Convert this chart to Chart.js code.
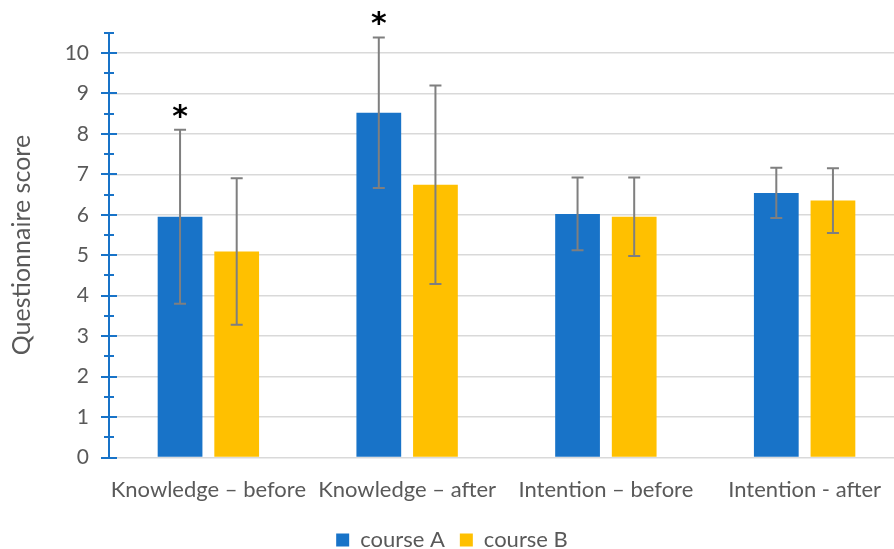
<!DOCTYPE html>
<html>
<head>
<meta charset="utf-8">
<script src="https://cdn.jsdelivr.net/npm/chart.js@4.4.1/dist/chart.umd.min.js"></script>
<style>
html,body{margin:0;padding:0;background:#fff;overflow:hidden;width:894px;height:549px;}
canvas{display:block;}
</style>
</head>
<body>
<canvas id="c" width="904" height="549" style="width:904px;height:549px"></canvas>
<script>
const categories = ['Knowledge – before', 'Knowledge – after', 'Intention – before', 'Intention - after'];
const seriesNames = ['course A', 'course B'];
const courseA = [5.95, 8.52, 6.02, 6.54];
const courseB = [5.09, 6.74, 5.95, 6.35];
const errA = [2.15, 1.86, 0.90, 0.62];
const errB = [1.81, 2.45, 0.97, 0.80];
const significantA = [true, true, false, false];
const yTickValues = [0, 1, 2, 3, 4, 5, 6, 7, 8, 9, 10];
const yMin = 0, yMax = 10.5;

const BLUE = '#1873C8', YELLOW = '#FFC000', GREY_TXT = '#595959';
const FONT = 'Lato, "Liberation Sans", sans-serif';

const errorBarPlugin = {
  id: 'errorBars',
  afterDatasetsDraw(chart) {
    const ctx = chart.ctx, ys = chart.scales.y;
    const errs = [errA, errB];
    chart.data.datasets.forEach((ds, i) => {
      const meta = chart.getDatasetMeta(i);
      meta.data.forEach((bar, j) => {
        const v = ds.data[j], e = errs[i][j];
        const yTop = ys.getPixelForValue(v + e), yBot = ys.getPixelForValue(v - e);
        const x = bar.x;
        ctx.save();
        ctx.strokeStyle = '#7F7F7F';
        ctx.lineWidth = 2;
        ctx.beginPath();
        ctx.moveTo(x, yTop); ctx.lineTo(x, yBot);
        ctx.moveTo(x - 6, yTop); ctx.lineTo(x + 6, yTop);
        ctx.moveTo(x - 6, yBot); ctx.lineTo(x + 6, yBot);
        ctx.stroke();
        if (i === 0 && significantA[j]) {
          ctx.fillStyle = '#000';
          ctx.font = 'bold 30px "DejaVu Sans", sans-serif';
          ctx.textAlign = 'center';
          ctx.textBaseline = 'middle';
          ctx.fillText('*', x, yTop - 12);
        }
        ctx.restore();
      });
    });
  }
};

const axisTickPlugin = {
  id: 'axisTicks',
  afterDraw(chart) {
    const ctx = chart.ctx, ys = chart.scales.y;
    const x0 = chart.chartArea.left;
    ctx.save();
    ctx.strokeStyle = BLUE;
    ctx.lineWidth = 2;
    ctx.beginPath();
    for (let k = 0; k <= yMax * 2; k++) {
      const v = k / 2;
      const y = Math.round(ys.getPixelForValue(v));
      const half = (k % 2 === 0) ? 8 : 5;
      ctx.moveTo(x0 - half, y); ctx.lineTo(x0 + half, y);
    }
    ctx.stroke();
    ctx.restore();
  }
};

new Chart(document.getElementById('c'), {
  type: 'bar',
  data: {
    labels: categories,
    datasets: [
      { label: seriesNames[0], data: courseA, backgroundColor: BLUE, barPercentage: 0.79, categoryPercentage: 0.57 },
      { label: seriesNames[1], data: courseB, backgroundColor: YELLOW, barPercentage: 0.79, categoryPercentage: 0.57 }
    ]
  },
  options: {
    responsive: false,
    animation: false,
    layout: { padding: { top: 25, right: 0, bottom: -12, left: 0 } },
    plugins: {
      tooltip: { enabled: false },
      legend: {
        position: 'bottom',
        labels: {
          color: GREY_TXT,
          font: { family: FONT, size: 22 },
          boxWidth: 13, boxHeight: 13, padding: 15
        }
      }
    },
    scales: {
      x: {
        grid: { display: false },
        border: { display: false },
        ticks: { color: GREY_TXT, font: { family: FONT, size: 22 }, padding: 11, maxRotation: 0, autoSkip: false }
      },
      y: {
        min: yMin, max: yMax,
        afterBuildTicks(scale) { scale.ticks = yTickValues.map(v => ({ value: v })); },
        afterFit(scale) { scale.width = 109; },
        grid: { color: '#D9D9D9', lineWidth: 1.5, drawTicks: false },
        border: { color: BLUE, width: 2 },
        ticks: { color: GREY_TXT, font: { family: FONT, size: 21 }, padding: 20 },
        title: { display: true, text: 'Questionnaire score', color: GREY_TXT, font: { family: FONT, size: 25 }, padding: { top: 7, bottom: 0 } }
      }
    }
  },
  plugins: [errorBarPlugin, axisTickPlugin]
});
</script>
</body>
</html>
